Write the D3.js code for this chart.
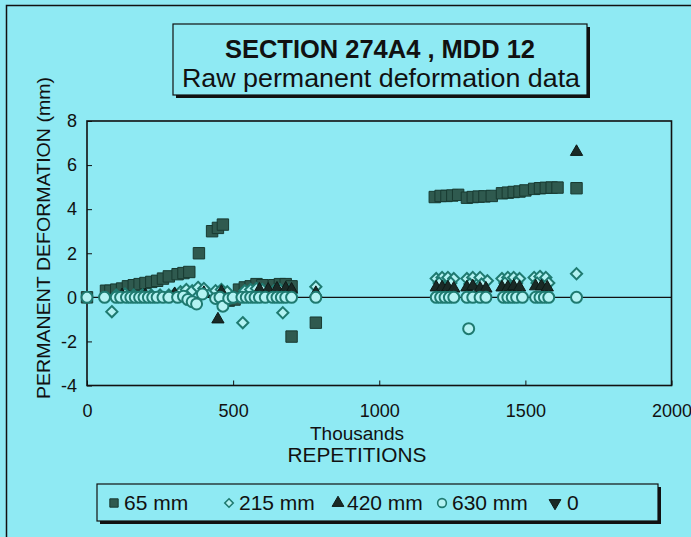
<!DOCTYPE html>
<html><head><meta charset="utf-8">
<script src="https://cdn.jsdelivr.net/npm/d3@7"></script>
<style>html,body{margin:0;padding:0;background:#8feaf3;}svg{display:block;}</style>
</head><body>
<svg id="chart" width="691" height="537"></svg>
<script>
// ---- data (thousands of repetitions, permanent deformation mm) ----
const xTicks = [0, 500, 1000, 1500, 2000];
const yTicks = [-4, -2, 0, 2, 4, 6, 8];
const seriesNames = ["65 mm", "215 mm", "420 mm", "630 mm", "0"];

const s65x = [0, 65, 80, 100, 120, 140, 160, 180, 200, 220, 240, 260, 280, 310, 330, 350, 383, 428, 448, 465, 485, 505, 520, 540, 560, 580, 600, 640, 660, 680, 700, 700, 783,
  1190, 1210, 1230, 1250, 1270, 1300, 1320, 1340, 1360, 1385, 1420, 1440, 1460, 1480, 1500, 1530, 1550, 1570, 1590, 1610, 1675];
const s65y = [0, 0.3, 0.3, 0.35, 0.4, 0.5, 0.55, 0.6, 0.65, 0.7, 0.75, 0.85, 0.95, 1.05, 1.1, 1.15, 2.0, 3.0, 3.15, 3.3, -0.15, -0.1, 0.35, 0.45, 0.5, 0.6, 0.55, 0.55, 0.6, 0.6, 0.5, -1.78, -1.15,
  4.55, 4.6, 4.6, 4.62, 4.65, 4.52, 4.55, 4.57, 4.58, 4.6, 4.72, 4.75, 4.78, 4.8, 4.85, 4.92, 4.95, 4.97, 4.98, 4.98, 4.95];

const s215x = [85, 100, 130, 160, 190, 220, 250, 280, 300, 320, 340, 360, 380, 400, 440, 460, 480, 533, 540, 560, 580, 600, 640, 660, 670, 690, 783,
  1195, 1215, 1235, 1255, 1205, 1245, 1300, 1320, 1345, 1370, 1310, 1350, 1420, 1440, 1460, 1480, 1430, 1470, 1530, 1550, 1570, 1540, 1580, 1675];
const s215y = [-0.65, 0.1, 0.15, 0.1, 0.1, 0.1, 0.1, 0.1, 0.15, 0.25, 0.35, 0.3, 0.45, 0.4, 0.3, 0.35, 0.25, -1.15, 0.3, 0.35, 0.4, 0.35, 0.3, 0.35, -0.7, 0.3, 0.48,
  0.85, 0.9, 0.9, 0.85, 0.65, 0.65, 0.85, 0.9, 0.9, 0.75, 0.6, 0.6, 0.85, 0.9, 0.9, 0.85, 0.65, 0.65, 0.9, 0.95, 0.9, 0.65, 0.65, 1.07];

const s420x = [120, 200, 300, 400, 448, 460, 590, 620, 650, 680, 700, 783,
  1195, 1215, 1235, 1255, 1300, 1320, 1345, 1365, 1420, 1440, 1460, 1480, 1535, 1555, 1575, 1675];
const s420y = [0.1, 0.1, 0.15, 0.2, -1.0, 0.25, 0.35, 0.35, 0.4, 0.4, 0.35, 0.2,
  0.45, 0.45, 0.45, 0.4, 0.45, 0.5, 0.4, 0.4, 0.45, 0.45, 0.5, 0.45, 0.5, 0.5, 0.45, 6.6];

const s630x = [0, 60, 100, 115, 135, 150, 165, 180, 195, 210, 225, 240, 260, 280, 310, 330, 345, 360, 375, 395, 440, 455, 465, 485, 500, 530, 545, 560, 575, 590, 610, 635, 650, 665, 680, 700, 783,
  1195, 1210, 1225, 1240, 1255, 1300, 1306, 1320, 1345, 1365, 1425, 1440, 1455, 1470, 1490, 1535, 1550, 1565, 1580, 1675];
const s630y = [0, 0, 0, 0, 0, 0, 0, 0, 0, 0, 0, 0, 0, 0, 0, 0.05, -0.1, -0.2, -0.3, 0.15, -0.05, 0, -0.4, -0.05, 0, 0, 0, 0, 0, 0, 0, 0, 0, 0, 0, 0, 0,
  0, 0, 0, 0, 0, 0, -1.42, 0, 0, 0, 0, 0, 0, 0, 0, 0, 0, 0, 0, 0];

const s0x = [0, 2000];
const s0y = [0, 0];

// ---- drawing ----
const svg = d3.select("#chart");
const bg = "#8feaf3";
const ink = "#111";
const font = "Liberation Sans, Arial, Helvetica, sans-serif";

svg.append("rect").attr("width", 691).attr("height", 537).attr("fill", bg);
svg.append("path").attr("d", "M6.5,537 V5.5 H691").attr("fill", "none").attr("stroke", ink).attr("stroke-width", 1.5);

const L = 87, R = 671.5, T = 121, B = 385.5;
const x = d3.scaleLinear().domain([0, 2000]).range([L, R]);
const y = d3.scaleLinear().domain([-4, 8]).range([B, T]);

// title box with shadow
const tb = {x: 173, y: 24, w: 414, h: 71};
svg.append("rect").attr("x", tb.x + 3).attr("y", tb.y + 3).attr("width", tb.w).attr("height", tb.h).attr("fill", ink);
svg.append("rect").attr("x", tb.x).attr("y", tb.y).attr("width", tb.w).attr("height", tb.h).attr("fill", bg).attr("stroke", ink).attr("stroke-width", 1.2);
svg.append("text").attr("x", 225).attr("y", 58)
  .attr("font-family", font).attr("font-size", 26).attr("font-weight", "bold").attr("fill", ink)
  .attr("textLength", 310).attr("lengthAdjust", "spacingAndGlyphs")
  .text("SECTION 274A4 , MDD 12");
svg.append("text").attr("x", 182).attr("y", 87)
  .attr("font-family", font).attr("font-size", 26).attr("fill", ink)
  .attr("textLength", 398).attr("lengthAdjust", "spacingAndGlyphs")
  .text("Raw permanent deformation data");

// axes
const gx = svg.append("g").attr("transform", `translate(0,${B})`)
  .call(d3.axisBottom(x).tickValues(xTicks).tickSize(-5).tickPadding(19).tickFormat(d => String(d)));
gx.selectAll("text").attr("font-family", font).attr("font-size", 18).attr("fill", ink);
gx.select(".domain").remove();
gx.selectAll("line").attr("stroke", ink);

const gy = svg.append("g").attr("transform", `translate(${L},0)`)
  .call(d3.axisLeft(y).tickValues(yTicks).tickSize(-5).tickPadding(10).tickFormat(d => String(d)));
gy.selectAll("text").attr("font-family", font).attr("font-size", 18).attr("fill", ink);
gy.select(".domain").remove();
gy.selectAll("line").attr("stroke", ink);

svg.append("rect").attr("x", L).attr("y", T).attr("width", R - L).attr("height", B - T)
  .attr("fill", "none").attr("stroke", ink).attr("stroke-width", 1.6);

// axis titles
svg.append("text").attr("x", 357).attr("y", 440).attr("text-anchor", "middle")
  .attr("font-family", font).attr("font-size", 18).attr("fill", ink)
  .attr("textLength", 94).attr("lengthAdjust", "spacingAndGlyphs").text("Thousands");
svg.append("text").attr("x", 357).attr("y", 462).attr("text-anchor", "middle")
  .attr("font-family", font).attr("font-size", 20).attr("fill", ink)
  .attr("textLength", 139).attr("lengthAdjust", "spacingAndGlyphs").text("REPETITIONS");
svg.append("text").attr("transform", `translate(50,238) rotate(-90)`).attr("text-anchor", "middle")
  .attr("font-family", font).attr("font-size", 19).attr("fill", ink)
  .attr("textLength", 322).attr("lengthAdjust", "spacingAndGlyphs").text("PERMANENT DEFORMATION (mm)");

// zero series as line
const line = d3.line().x(d => x(d[0])).y(d => y(d[1]));
svg.append("path").datum(d3.zip(s0x, s0y)).attr("d", line).attr("fill", "none").attr("stroke", ink).attr("stroke-width", 1.1);

// marker styles
const sqFill = "#2f5a4f", sqStroke = "#183a31";
const teal = "#1f7a70";
const lightFill = "#b3f2f2";
const triFill = "#1a2a26";

const plot = svg.append("g");
function pts(xs, ys) { return d3.zip(xs, ys); }

plot.selectAll(".sq").data(pts(s65x, s65y)).join("path")
  .attr("transform", d => `translate(${x(d[0])},${y(d[1])})`)
  .attr("d", d3.symbol(d3.symbolSquare, 130))
  .attr("fill", sqFill).attr("stroke", sqStroke).attr("stroke-width", 1);

plot.selectAll(".di").data(pts(s215x, s215y)).join("path")
  .attr("transform", d => `translate(${x(d[0])},${y(d[1])})`)
  .attr("d", d3.symbol(d3.symbolDiamond2, 80))
  .attr("fill", lightFill).attr("stroke", teal).attr("stroke-width", 2);

plot.selectAll(".tr").data(pts(s420x, s420y)).join("path")
  .attr("transform", d => `translate(${x(d[0])},${y(d[1])})`)
  .attr("d", d3.symbol(d3.symbolTriangle, 65))
  .attr("fill", triFill).attr("stroke", "#0d1a17").attr("stroke-width", 1);

plot.selectAll(".ci").data(pts(s630x, s630y)).join("path")
  .attr("transform", d => `translate(${x(d[0])},${y(d[1])})`)
  .attr("d", d3.symbol(d3.symbolCircle, 95))
  .attr("fill", lightFill).attr("stroke", teal).attr("stroke-width", 2);

// legend
const lb = {x: 97, y: 484, w: 561, h: 37};
svg.append("rect").attr("x", lb.x + 3).attr("y", lb.y + 3).attr("width", lb.w).attr("height", lb.h).attr("fill", ink);
svg.append("rect").attr("x", lb.x).attr("y", lb.y).attr("width", lb.w).attr("height", lb.h).attr("fill", bg).attr("stroke", ink).attr("stroke-width", 1.2);

const legMarkX = [114, 229, 338, 442, 555];
const legTextX = [124, 239, 347, 452, 567];
const legY = 503;
const legSym = [
  {s: d3.symbolSquare, size: 70, fill: sqFill, stroke: sqStroke, sw: 1, rot: 0},
  {s: d3.symbolDiamond2, size: 45, fill: lightFill, stroke: teal, sw: 1.6, rot: 0},
  {s: d3.symbolTriangle, size: 60, fill: triFill, stroke: "#0d1a17", sw: 1, rot: 0},
  {s: d3.symbolCircle, size: 60, fill: lightFill, stroke: teal, sw: 1.6, rot: 0},
  {s: d3.symbolTriangle, size: 60, fill: triFill, stroke: "#0d1a17", sw: 1, rot: 180}
];
const lg = svg.append("g");
seriesNames.forEach((name, i) => {
  const m = legSym[i];
  lg.append("path").attr("transform", `translate(${legMarkX[i]},${legY}) rotate(${m.rot})`)
    .attr("d", d3.symbol(m.s, m.size)).attr("fill", m.fill).attr("stroke", m.stroke).attr("stroke-width", m.sw);
  lg.append("text").attr("x", legTextX[i]).attr("y", legY + 7).attr("font-family", font).attr("font-size", 21).attr("fill", ink).text(name);
});
</script>
</body></html>
